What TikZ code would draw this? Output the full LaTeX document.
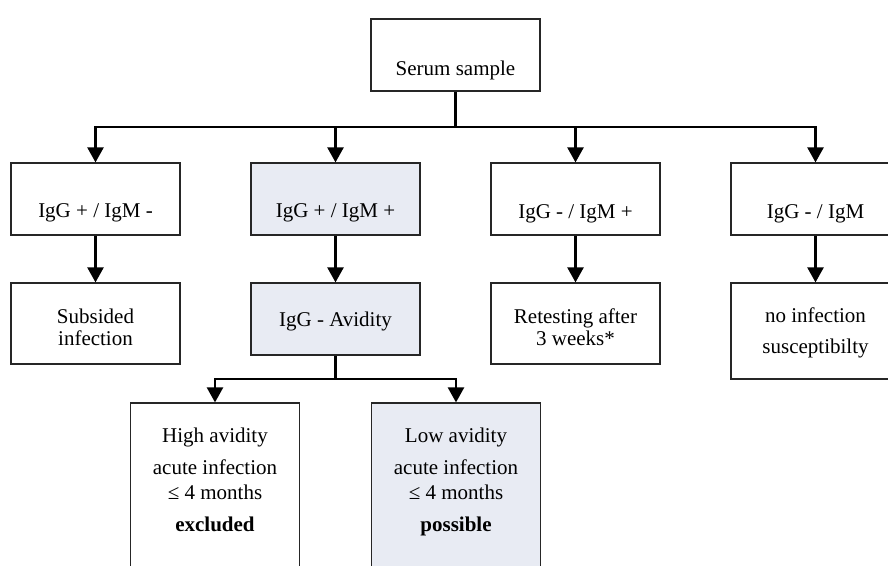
\documentclass[tikz,border=0pt]{standalone}
\usepackage{fontspec}
\setmainfont{Liberation Serif}
\usetikzlibrary{arrows.meta}
\definecolor{boxfill}{RGB}{232,235,243}
\tikzset{
  box/.style={draw=black!85, line width=1.2pt, rectangle, minimum width=169pt, inner sep=0pt, fill=white},
  shaded/.style={box, fill=boxfill},
  txt/.style={anchor=base, inner sep=0pt, font=\fontsize{21}{23}\selectfont},
  conn/.style={line width=2.4pt, draw=black},
  arr/.style={conn, -{Triangle[length=15pt,width=16pt]}},
}
\begin{document}
\begin{tikzpicture}[x=1pt,y=-1pt]
\useasboundingbox (0,0) rectangle (888,565);
\clip (0,0) rectangle (888,565);
% boxes
\node[box, minimum height=72pt] (serum) at (455.5,55) {};
\node[box, minimum height=72pt] (b1) at (95.5,199) {};
\node[shaded, minimum height=72pt] (b2) at (335.5,199) {};
\node[box, minimum height=72pt] (b3) at (575.5,199) {};
\node[box, minimum height=72pt] (b4) at (815.5,199) {};
\node[box, minimum height=81pt] (c1) at (95.5,323.5) {};
\node[shaded, minimum height=72pt] (c2) at (335.5,319) {};
\node[box, minimum height=81pt] (c3) at (575.5,323.5) {};
\node[box, minimum height=96pt] (c4) at (815.5,331) {};
\node[box, minimum height=200pt] (d1) at (215,503) {};
\node[shaded, minimum height=200pt] (d2) at (456,503) {};
% texts
\node[txt] (ts) at (455.5,75) {Serum sample};
\node[txt] (tb1) at (95.5,217) {IgG + / IgM -};
\node[txt] (tb2) at (335.5,217) {IgG + / IgM +};
\node[txt] (tb3) at (575.5,218) {IgG - / IgM +};
\node[txt] (tb4) at (815.5,218) {IgG - / IgM};
\node[txt] (tc1a) at (95.5,323) {Subsided};
\node[txt] (tc1b) at (95.5,345) {infection};
\node[txt] (tc2) at (335.5,326) {IgG - Avidity};
\node[txt] (tc3a) at (575.5,323) {Retesting after};
\node[txt] (tc3b) at (575.5,345) {3 weeks*};
\node[txt] (tc4a) at (815.5,322) {no infection};
\node[txt] (tc4b) at (815.5,353) {susceptibilty};
\node[txt] (td1a) at (215,442) {High avidity};
\node[txt] (td1b) at (215,474) {acute infection};
\node[txt] (td1c) at (215,499) {≤ 4 months};
\node[txt, font=\fontsize{21}{23}\selectfont\bfseries] (td1d) at (215,531) {excluded};
\node[txt] (td2a) at (456,442) {Low avidity};
\node[txt] (td2b) at (456,474) {acute infection};
\node[txt] (td2c) at (456,499) {≤ 4 months};
\node[txt, font=\fontsize{21}{23}\selectfont\bfseries] (td2d) at (456,531) {possible};
% connectors
\coordinate (bus) at (455.5,127);
\draw[conn] (serum.south) -- (bus);
\draw[arr] (bus) -| (b1.north);
\draw[arr] (bus) -| (b2.north);
\draw[arr] (bus) -| (b3.north);
\draw[arr] (bus) -| (b4.north);
\draw[arr] (b1.south) -- (c1.north);
\draw[arr] (b2.south) -- (c2.north);
\draw[arr] (b3.south) -- (c3.north);
\draw[arr] (b4.south) -- (c4.north);
\coordinate (split) at (335.5,379);
\draw[conn] (c2.south) -- (split);
\draw[arr] (split) -| (d1.north);
\draw[arr] (split) -| (d2.north);
\end{tikzpicture}
\end{document}
